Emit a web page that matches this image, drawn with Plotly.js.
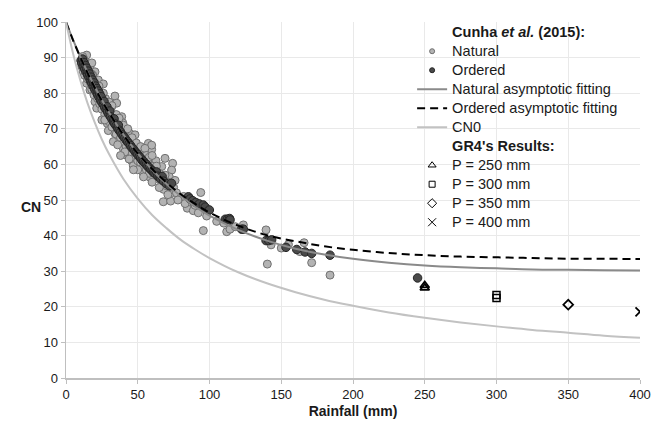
<!DOCTYPE html>
<html>
<head>
<meta charset="utf-8">
<script src="https://cdn.plot.ly/plotly-3.0.1.min.js"></script>
<style>html,body{margin:0;padding:0;background:#fff;}#chart{width:656px;height:421px;}</style>
</head>
<body>
<div id="chart"></div>
<script>
// Cunha et al. (2015) - Natural rainfall events
var naturalX = [14.4,11.6,13.2,16.7,20.2,18.6,22.5,26,14.4,16.7,34.1,35.3,31.8,30.7,20.2,21.4,38.8,39.5,28.8,29.5,34.1,33,37.6,44.6,48.1,39.9,42.3,45.8,46.9,57.4,59.7,53.9,62.7,69,74.3,73.6,66.7,62,66.7,74.3,93.9,67.8,72.9,84.5,88.7,92.2,95.7,51.6,53.9,58.5,57.4,59.7,112,114.3,123.6,139.4,140.3,142.9,165.9,171.2,184,
  10.5,11,12,12.5,13,14,15,15.5,17,17.5,18,19,19.5,21,22,23,23.5,24.5,25,26,27,27.5,28,29,30,31,32,33,34.5,35,36,37,38,38.5,40,41,42,43,44,45,46,47,48,49,50,51,52,53,54,55,56,57,58,60,61,62,64,65,67,68,70,71,72,75,77,80,82,86,90,97,98,105,110,118,150,155,163,25,36,44,50,54,
  15,18,20,23,26,27,30,32,35,37,40,41,43,46,49,52,55,56,58,60,63,65,69,71,76,78,83,60,47,38];
var naturalY = [90.7,90.3,88.9,87.4,86.0,85.1,83.7,82.6,82.8,80.9,79.2,77.2,76.2,75.8,77.6,75.8,73.4,71.7,71.5,69.5,68.7,66.4,66.9,68.7,68.3,64.5,62.6,61.0,59.6,65.9,64.2,63.6,61.0,61.7,60.3,58.4,59.4,56.5,54.9,52.1,52.1,49.5,49.7,47.7,47.0,46.4,41.4,58.9,57.5,56.4,58.4,65.4,41.1,41.8,43.0,41.6,32.0,37.4,38.0,32.4,28.9,
  89,87.5,86,89.5,85,87,84,86.5,83,85.5,81,82.5,79.5,81.5,78.5,80.5,77,79,75.5,77.5,74,78.5,76.5,73,72,74.5,70.5,73.5,71,68.5,72.5,69.5,67.5,70.5,66,69.5,65,67.5,64,66.5,63,65.5,62,64.5,61,63.5,60.5,62,59.5,61.5,58.5,60.5,57.5,59.5,57.5,58.5,56,57.5,55.5,53,54,51.5,56.5,53.5,52,50.5,51,49.5,48.5,47.5,45.5,44,43.5,42.5,36.5,37.5,35.5,72.5,65.5,61.5,58.5,56.5,
  88,88.5,83,82,80,72.5,77.5,76.5,74,73,71,63.5,70,67.5,66,65,64.5,62.5,62,55,59.5,53.5,57,55,55.5,50,49,62.5,58.5,62.5];

// Cunha et al. (2015) - Ordered rainfall events
var orderedX = [10.5,11,11.5,12,12.5,13,13.5,14,14.5,15,15.5,16,16.5,17,17.5,18,18.5,19,19.5,20,20.5,21,21.5,22,22.5,23,23.5,24,24.5,25,26,26.5,27,28,28.5,29,30,30.5,31,32,33,33.5,34,35,36,36.5,37,38,39,40,41,42,43,44,45,46,47,48,49,50,51,52,53,54,55,56,57,58,59,60,61,62,63,64,65,66,67,68,70,72,73.5,85.3,86.5,88.3,90.5,92.9,95.7,97,99.9,111,112.5,114,114.3,122.4,123.6,139.4,141.3,143.3,153.3,160.8,166.6,171.2,184,245];
var orderedY = [89.2,88.4,89.6,87.6,88.6,86.8,87.8,86.0,87.0,85.2,86.2,84.4,85.4,83.5,84.5,82.8,83.7,81.9,82.9,81.1,82.0,80.4,81.3,79.6,80.6,78.9,79.8,78.1,79.0,77.4,76.8,77.7,76.0,75.4,76.2,74.7,74.0,75.0,73.4,72.8,72.0,72.8,71.4,70.9,70.2,71.0,69.6,69.1,68.4,67.9,67.4,66.8,66.3,65.8,65.3,64.7,64.3,63.7,63.2,62.8,62.2,61.8,61.2,60.9,60.3,60.0,59.4,59.1,58.6,58.3,57.8,57.5,57.9,56.7,56.4,56.0,56.6,55.3,54.6,54.0,54.7,50.9,50.3,49.8,49.3,48.9,48.6,48.0,47.2,44.6,44.6,44.8,44.4,41.8,41.8,38.6,38.6,38.8,36.7,36.1,35.4,35.0,34.5,28.1];

// Fitted curves
var curveX = [0,5,10,15,20,25,30,40,50,60,70,80,90,100,120,140,160,180,200,225,250,275,300,325,350,375,400];
var naturalFitY = [100,94.9,90.2,85.9,81.9,78.1,74.6,68.4,63.1,58.5,54.5,51.1,48.1,45.6,41.6,38.6,36.3,34.7,33.5,32.4,31.6,31.1,30.8,30.5,30.4,30.3,30.2];
var orderedFitY = [100,94.8,90.1,85.7,81.6,77.9,74.5,68.3,63.1,58.7,54.9,51.6,48.9,46.5,42.8,40.1,38.4,37.0,36.0,35.1,34.5,34.1,33.9,33.7,33.5,33.5,33.4];
var cn0Y = [100,91.0,83.6,77.2,71.8,67.0,62.9,55.9,50.4,45.8,42.1,38.8,36.1,33.7,29.7,26.6,24.1,22.0,20.3,18.4,16.9,15.6,14.5,13.5,12.7,11.9,11.3];

// GR4's results
var gr250X = [250,250], gr250Y = [25.3,26.0];
var gr300X = [300,300], gr300Y = [22.5,23.3];
var gr350X = [350], gr350Y = [20.6];
var gr400X = [400], gr400Y = [18.6];

var xTicks = [0,50,100,150,200,250,300,350,400];
var yTicks = [0,10,20,30,40,50,60,70,80,90,100];

var font = 'Liberation Sans, Arial, sans-serif';
var lt = function(t){ return '<span style="font-size:14.5px">' + t + '</span>'; };

// legend-only entry (no data drawn)
var key = function(name, marker){
  return {x:[null], y:[null], type:'scatter', mode:'markers', name:name,
    marker:marker, hoverinfo:'skip'};
};

var traces = [
  {x:naturalX, y:naturalY, type:'scatter', mode:'markers', name:'Natural', showlegend:false,
    marker:{size:8, color:'#b3b3b3', line:{color:'#707070', width:1}}},
  {x:orderedX, y:orderedY, type:'scatter', mode:'markers', name:'Ordered', showlegend:false,
    marker:{size:8.5, color:'#4a4a4a', line:{color:'#262626', width:1}}},
  key(lt('<b>Cunha <i>et al.</i> (2015):</b>'), {size:1, color:'rgba(0,0,0,0)'}),
  key(lt('Natural'), {size:5, color:'#b3b3b3', line:{color:'#707070', width:1}}),
  key(lt('Ordered'), {size:5, color:'#4a4a4a', line:{color:'#262626', width:1}}),
  {x:curveX, y:naturalFitY, type:'scatter', mode:'lines', name:lt('Natural asymptotic fitting'),
    line:{color:'#8a8a8a', width:2, shape:'spline'}},
  {x:curveX, y:orderedFitY, type:'scatter', mode:'lines', name:lt('Ordered asymptotic fitting'),
    line:{color:'#000000', width:2, dash:'8px,5px', shape:'spline'}},
  {x:curveX, y:cn0Y, type:'scatter', mode:'lines', name:lt('CN0'),
    line:{color:'#c2c2c2', width:2, shape:'spline'}},
  key(lt("<b>GR4's Results:</b>"), {size:1, color:'rgba(0,0,0,0)'}),
  key(lt('P = 250 mm'), {symbol:'triangle-up-open', size:7, color:'#000', line:{width:1}}),
  key(lt('P = 300 mm'), {symbol:'square-open', size:6, color:'#000', line:{width:1}}),
  key(lt('P = 350 mm'), {symbol:'diamond-open', size:7, color:'#000', line:{width:1}}),
  key(lt('P = 400 mm'), {symbol:'x-thin-open', size:8, color:'#000', line:{width:1}}),
  {x:gr250X, y:gr250Y, type:'scatter', mode:'markers', name:'P = 250 mm', showlegend:false,
    marker:{symbol:'triangle-up-open', size:8, color:'#000', line:{width:1.8}}},
  {x:gr300X, y:gr300Y, type:'scatter', mode:'markers', name:'P = 300 mm', showlegend:false,
    marker:{symbol:'square-open', size:7, color:'#000', line:{width:1.5}}},
  {x:gr350X, y:gr350Y, type:'scatter', mode:'markers', name:'P = 350 mm', showlegend:false,
    marker:{symbol:'diamond-open', size:7.5, color:'#000', line:{width:1.8}}},
  {x:gr400X, y:gr400Y, type:'scatter', mode:'markers', name:'P = 400 mm', showlegend:false,
    marker:{symbol:'x-thin-open', size:9, color:'#000', line:{width:1.8}}}
];

var layout = {
  width:656, height:421,
  margin:{l:66, r:16, t:22, b:43},
  paper_bgcolor:'#fff', plot_bgcolor:'#fff',
  font:{family:font, size:13, color:'#1a1a1a'},
  showlegend:true,
  legend:{x:0.603, xanchor:'left', y:1.012, yanchor:'top', bgcolor:'rgba(0,0,0,0)',
    font:{family:font, size:12, color:'#1a1a1a'}, traceorder:'normal', tracegroupgap:0},
  xaxis:{range:[0,400], tickvals:xTicks, ticktext:xTicks.map(String),
    showgrid:true, gridcolor:'#e9e9e9', gridwidth:1, zeroline:false,
    showline:true, linecolor:'#bfbfbf', linewidth:1.5, ticks:'outside', ticklen:4, tickcolor:'#bfbfbf',
    tickfont:{family:font, size:13, color:'#1a1a1a'},
    title:{text:'<b>Rainfall (mm)</b>', font:{family:font, size:14, color:'#1a1a1a'}, standoff:5}},
  yaxis:{range:[0,100], tickvals:yTicks, ticktext:yTicks.map(String),
    showgrid:true, gridcolor:'#e9e9e9', gridwidth:1, zeroline:false,
    showline:true, linecolor:'#bfbfbf', linewidth:1.5, ticks:'outside', ticklen:4, tickcolor:'#bfbfbf',
    tickfont:{family:font, size:13, color:'#1a1a1a'}},
  annotations:[{text:'<b>CN</b>', xref:'paper', yref:'paper', x:-0.061, y:0.48,
    xanchor:'center', yanchor:'middle', showarrow:false, textangle:0,
    font:{family:font, size:14, color:'#1a1a1a'}}]
};

Plotly.newPlot('chart', traces, layout, {displayModeBar:false, staticPlot:true});
</script>
</body>
</html>
